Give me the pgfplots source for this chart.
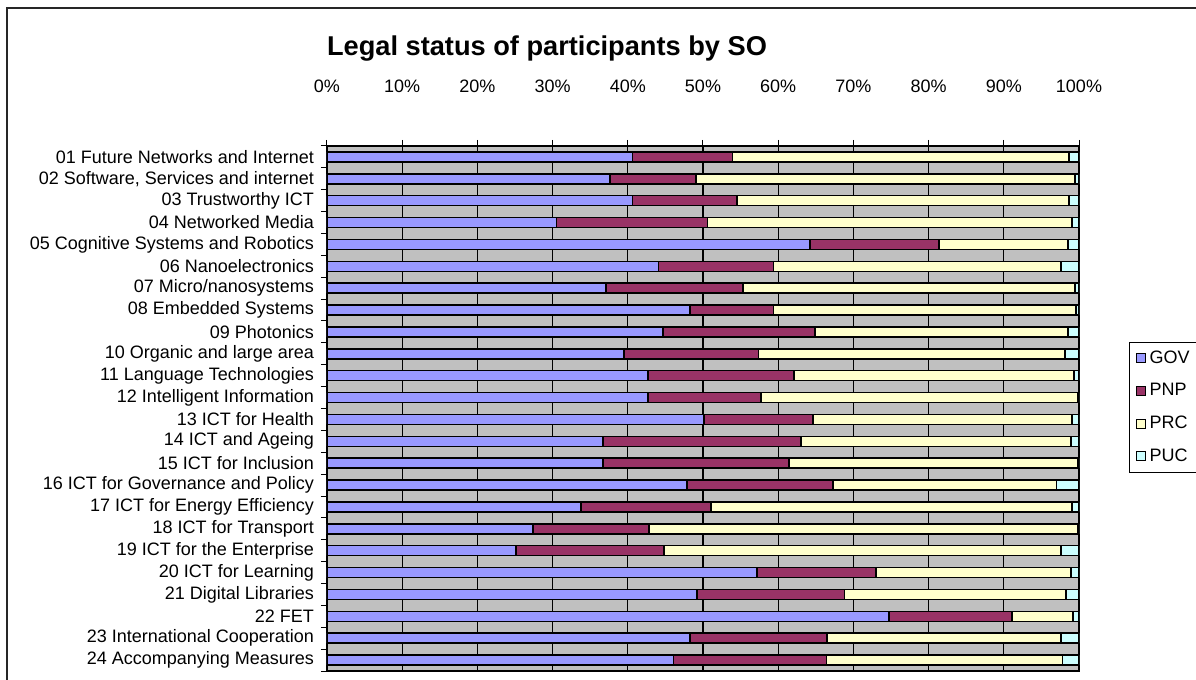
\documentclass[border=0pt]{standalone}
\usepackage{pgfplots}
\pgfplotsset{compat=1.18}
\usepackage{pgfplotstable}
\usepackage{fontspec}
\setmainfont{Liberation Sans}
\definecolor{cgov}{HTML}{9999FF}
\definecolor{cpnp}{HTML}{993366}
\definecolor{cprc}{HTML}{FFFFCC}
\definecolor{cpuc}{HTML}{CCFFFF}
\definecolor{cbg}{HTML}{C0C0C0}
\pgfplotstableread{
y GOV PNP PRC PUC
0 40.6 13.3 44.8 1.3
1 37.6 11.5 50.4 0.5
2 40.6 13.9 44.2 1.3
3 30.5 20.1 48.5 0.9
4 64.2 17.2 17.1 1.5
5 44.1 15.3 38.2 2.4
6 37.1 18.2 44.2 0.5
7 48.3 11.1 40.2 0.4
8 44.7 20.2 33.6 1.5
9 39.5 17.9 40.7 1.9
10 42.7 19.4 37.2 0.7
11 42.7 15.0 42.1 0.2
12 50.1 14.5 34.5 0.9
13 36.7 26.3 35.9 1.1
14 36.7 24.7 38.4 0.2
15 47.9 19.4 29.7 3.0
16 33.8 17.3 48.0 0.9
17 27.4 15.4 57.0 0.2
18 25.1 19.7 52.8 2.4
19 57.2 15.8 25.9 1.1
20 49.2 19.6 29.5 1.7
21 74.7 16.4 8.1 0.8
22 48.3 18.2 31.1 2.4
23 46.1 20.3 31.4 2.2
}\datatable
\begin{document}
\begin{tikzpicture}[x=1pt,y=1pt]
\path[use as bounding box] (0,0) rectangle (598,340);
\draw[black!85, line width=1pt] (3.5,-20) -- (3.5,336) -- (640,336);
\node[font=\bfseries\fontsize{13.6}{16}\selectfont] at (273.5,315.5) {Legal status of participants by SO};
\begin{axis}[
  at={(163.5pt,4.5pt)}, anchor=south west,
  width=376pt, height=262.5pt, scale only axis,
  xbar stacked, bar width=5pt,
  xmin=0, xmax=100, ymin=-0.5, ymax=23.5, y dir=reverse,
  enlargelimits=false,
  axis background/.style={fill=cbg},
  axis line style={black, line width=0.6pt},
  font=\fontsize{9}{10.8}\selectfont,
  /pgf/number format/assume math mode=true,
  xtick={0,10,...,100},
  xticklabels={0\%,10\%,20\%,30\%,40\%,50\%,60\%,70\%,80\%,90\%,100\%},
  xtick pos=upper, xticklabel pos=upper,
  xticklabel style={yshift=20pt},
  ytick={-0.5,0.5,...,23.5},
  yticklabels={01 Future Networks and Internet,{02 Software, Services and internet},03 Trustworthy ICT,04 Networked Media,05 Cognitive Systems and Robotics,06 Nanoelectronics,07 Micro/nanosystems,08 Embedded Systems,09 Photonics,10 Organic and large area,11 Language Technologies,12 Intelligent Information,13 ICT for Health,14 ICT and Ageing,15 ICT for Inclusion,16 ICT for Governance and Policy,17 ICT for Energy Efficiency,18 ICT for Transport,19 ICT for the Enterprise,20 ICT for Learning,21 Digital Libraries,22 FET,23 International Cooperation,24 Accompanying Measures,{}},
  yticklabel style={yshift=-5.47pt, anchor=east},
  ytick pos=left,
  tick align=outside, major tick length=3pt,
  tick style={black, line width=0.5pt},
  xmajorgrids, grid style={black, line width=0.6pt},
  legend style={at={(1.0665,0.6267)}, anchor=north west, draw=black, fill=white,
    line width=0.5pt, font=\fontsize{9}{10.8}\selectfont, row sep=4.6pt,
    cells={anchor=west}},
  legend image code/.code={\draw[#1,draw=black,line width=0.5pt] (0pt,-2.25pt) rectangle (4.5pt,2.25pt);},
  every axis plot/.append style={draw=black, line width=0.8pt},
]
\addplot[fill=cgov] table[x=GOV,y=y] {\datatable};
\addplot[fill=cpnp] table[x=PNP,y=y] {\datatable};
\addplot[fill=cprc] table[x=PRC,y=y] {\datatable};
\addplot[fill=cpuc] table[x=PUC,y=y] {\datatable};
\legend{GOV\hspace*{12pt},PNP\hspace*{12pt},PRC\hspace*{12pt},PUC\hspace*{12pt}}
\end{axis}
\end{tikzpicture}
\end{document}
